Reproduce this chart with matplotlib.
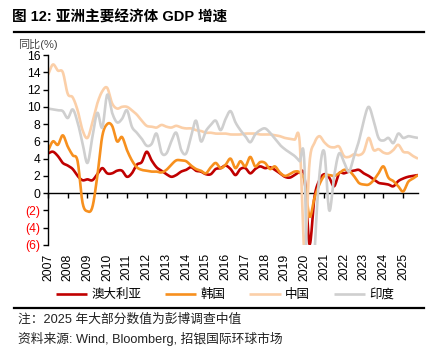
import numpy as np
import matplotlib
matplotlib.use("Agg")
import matplotlib.pyplot as plt
from matplotlib.lines import Line2D

plt.rcParams['font.family'] = ['Liberation Sans', 'Noto Sans CJK SC', 'DejaVu Sans']

# Quarterly real GDP growth, % yoy, 2007Q1 - 2025Q4
years = list(range(2007, 2026))
australia = [
    4.6, 4.8, 4.3, 3.5,   3.2, 2.8, 2.0, 1.5,   1.6, 1.5, 2.2, 2.9,   2.3, 2.3, 2.6, 2.6,
    1.9, 2.3, 3.3, 3.6,   4.8, 3.8, 3.0, 2.6,   2.2, 1.9, 2.1, 2.5,   2.7, 3.0, 2.6, 2.5,
    2.2, 2.2, 2.8, 2.9,   3.2, 2.8, 2.1, 2.8,   2.9, 2.3, 2.8, 3.1,   2.9, 3.0, 2.7, 2.3,
    1.9, 1.8, 2.1, 2.4,   1.8, -5.9, -0.5, 1.5, 2.2, 1.8, 0.8, 2.3,   2.3, 2.5, 2.6, 2.7,
    2.3, 2.0, 1.6, 1.2,   1.1, 1.0, 0.8, 1.4,   1.7, 1.9, 2.0, 2.1,
]
korea = [
    4.9, 6.0, 5.6, 6.7,   5.4, 4.4, 3.7, -1.1,  -2.1, -1.6, 2.0, 6.6,  8.0, 7.8, 6.0, 6.5,
    5.0, 3.8, 3.0, 2.7,   2.6, 2.5, 2.5, 2.4,   2.7, 3.3, 3.8, 3.8,   3.7, 3.2, 2.8, 2.6,
    2.3, 3.0, 3.5, 2.9,   3.3, 4.0, 2.9, 3.7,   3.1, 4.2, 3.1, 3.6,   3.5, 2.8, 3.1, 2.4,
    2.0, 2.2, 2.5, 2.4,   1.4, -2.7, -0.6, 1.0, 2.0, 2.1, 2.0, 2.3,   2.7, 2.6, 2.0, 1.2,
    1.0, 1.0, 1.5, 2.3,   3.1, 1.8, 1.4, 0.8,   0.2, 1.3, 1.7, 2.1,
]
china = [
    13.7, 14.9, 14.2, 14.0, 11.5, 11.1, 9.6, 7.3,  6.4, 8.2, 10.4, 11.8, 12.2, 10.4, 9.8, 10.0,
    10.0, 9.6, 9.1, 8.4,    7.8, 7.7, 7.6, 7.9,    7.7, 7.6, 7.8, 7.6,   7.5, 7.5, 7.3, 7.2,
    7.0, 7.0, 6.9, 6.9,     6.9, 6.8, 6.8, 6.8,    6.9, 6.9, 6.9, 6.8,   6.8, 6.8, 6.7, 6.6,
    6.4, 6.3, 6.2, 6.0,     -6.8, 3.5, 5.8, 6.6,   5.9, 5.4, 5.3, 5.4,   4.3, 4.2, 4.5, 4.4,
    4.8, 6.4, 5.0, 5.1,     4.7, 4.6, 5.0, 5.6,    4.8, 4.7, 4.3, 4.0,
]
india = [
    9.8, 9.7, 9.6, 9.5,   8.7, 9.7, 8.2, 5.8,   3.5, 6.5, 9.3, 7.6,   11.4, 9.3, 8.2, 8.6,
    9.6, 7.7, 7.0, 6.3,   5.5, 5.7, 6.9, 4.7,   4.6, 6.0, 7.0, 5.0,   4.6, 6.6, 8.4, 6.0,
    7.2, 7.9, 8.4, 7.3,   8.6, 9.5, 8.2, 7.3,   6.6, 5.9, 6.8, 7.3,   7.5, 7.0, 6.3, 5.6,
    5.1, 4.7, 4.3, 3.7,   3.0, -24.0, -7.5, 2.0, 4.8, -2.0, 2.0, 4.6, 3.6, 2.5, 4.2, 6.0,
    8.4, 10.0, 8.4, 6.4,  6.1, 6.4, 5.8, 6.9,   6.4, 6.6, 6.5, 6.4,
]
series_names = ['澳大利亚', '韩国', '中国', '印度']
series_colors = ['#C00000', '#F7901E', '#FBCFA8', '#CFCFCF']
ytick_vals = [16, 14, 12, 10, 8, 6, 4, 2, 0, -2, -4, -6]
ytick_text = ['16', '14', '12', '10', '8', '6', '4', '2', '0', '(2)', '(4)', '(6)']


def smooth(x, y, n=12):
    """Catmull-Rom curve through the quarterly points."""
    x = np.asarray(x, float)
    y = np.asarray(y, float)
    px = np.concatenate([[2 * x[0] - x[1]], x, [2 * x[-1] - x[-2]]])
    py = np.concatenate([[2 * y[0] - y[1]], y, [2 * y[-1] - y[-2]]])
    xs, ys = [], []
    t = np.linspace(0, 1, n, endpoint=False)
    for i in range(1, len(px) - 2):
        for arr, out in ((px, xs), (py, ys)):
            p0, p1, p2, p3 = arr[i - 1], arr[i], arr[i + 1], arr[i + 2]
            out.extend(0.5 * ((2 * p1) + (-p0 + p2) * t
                              + (2 * p0 - 5 * p1 + 4 * p2 - p3) * t ** 2
                              + (-p0 + 3 * p1 - 3 * p2 + p3) * t ** 3))
    xs.append(x[-1])
    ys.append(y[-1])
    return np.array(xs), np.array(ys)


W, H = 439, 347
fig = plt.figure(figsize=(W / 100, H / 100), dpi=100)
ax = fig.add_axes([48 / W, 1 - 245 / H, (418 - 48) / W, (245 - 55) / H])

quarters = years[0] + 0.25 * np.arange(len(china))
for vals, name, col in zip([australia, korea, china, india], series_names, series_colors):
    sx, sy = smooth(quarters, vals)
    ax.plot(sx, sy, color=col, lw=1.9, label=name, solid_capstyle='butt')

ax.set_xlim(years[0], years[0] + 0.25 * (len(china) - 1))
ax.set_ylim(-6, 16)

# y axis
for s in ['top', 'right', 'bottom']:
    ax.spines[s].set_visible(False)
ax.spines['left'].set_linewidth(1.0)
ax.set_yticks(ytick_vals)
ax.set_yticklabels(ytick_text, fontsize=8.7)
for lab, v in zip(ax.get_yticklabels(), ytick_vals):
    lab.set_color('#FF0000' if v < 0 else 'black')
ax.tick_params(axis='y', direction='out', length=3.5, width=1.0, pad=2)

# year labels along the bottom
ax.set_xticks(years)
ax.set_xticklabels([str(y) for y in years], rotation=90, fontsize=8.7)
ax.tick_params(axis='x', length=0, pad=6)

# zero line carrying the x tick marks
zero_ax = ax.secondary_xaxis(6 / 22)
zero_ax.set_xticks(years)
zero_ax.set_xticklabels([])
zero_ax.tick_params(axis='x', direction='out', length=3.5, width=1.0)
zero_ax.spines['bottom'].set_linewidth(1.0)

# y axis caption
fig.text(18 / W, 1 - 44 / H, '同比(%)', fontsize=8, color='#444444', va='center', ha='left')

# title and rules
fig.text(12 / W, 1 - 17 / H, '图 12: 亚洲主要经济体 GDP 增速', fontsize=10.5,
         fontweight='bold', va='center', ha='left')
fig.add_artist(Line2D([14 / W, 424 / W], [1 - 32 / H] * 2, color='black', lw=1.6))
fig.add_artist(Line2D([14 / W, 424 / W], [1 - 308 / H] * 2, color='black', lw=1.6))

# legend
handles, labels = ax.get_legend_handles_labels()
fig.legend(handles, labels, loc='center', bbox_to_anchor=(225 / W, 1 - 295 / H),
           ncol=4, frameon=False, fontsize=9, handlelength=2.5, handletextpad=0.35,
           columnspacing=1.9)

# footnotes
fig.text(18 / W, 1 - 320 / H, '注：2025 年大部分数值为彭博调查中值', fontsize=9.2,
         va='center', ha='left', color='#222222')
fig.text(18 / W, 1 - 339 / H, '资料来源: Wind, Bloomberg, 招银国际环球市场', fontsize=9.2,
         va='center', ha='left', color='#222222')

fig.savefig('out.png', dpi=100)
